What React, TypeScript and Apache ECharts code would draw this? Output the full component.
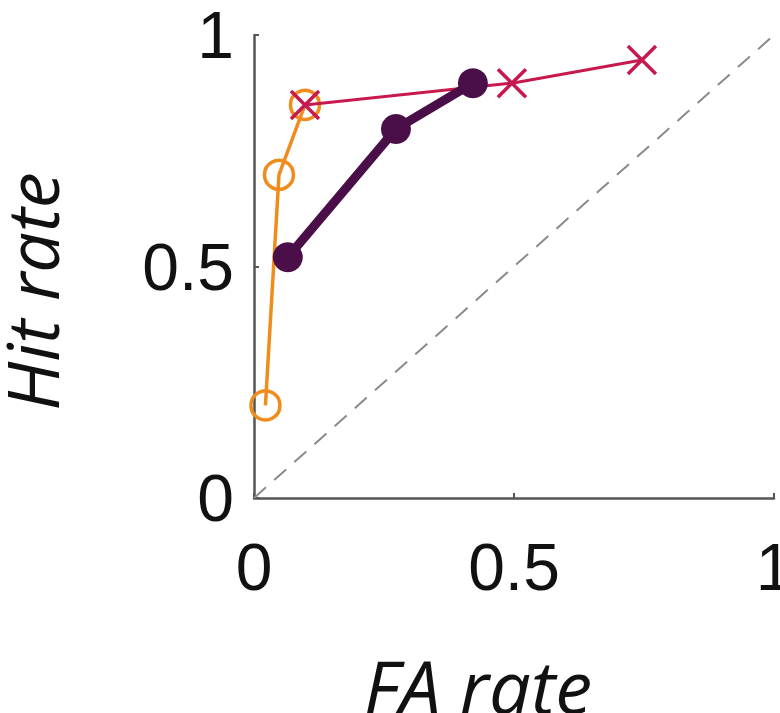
import React, { useEffect, useRef } from "react";
import * as echarts from "echarts";

const orangeX = [0.022, 0.048, 0.098];
const orangeY = [0.2, 0.698, 0.849];
const magentaX = [0.098, 0.496, 0.746];
const magentaY = [0.849, 0.896, 0.946];
const purpleX = [0.065, 0.273, 0.421];
const purpleY = [0.52, 0.797, 0.896];
const diagX = [0, 1];
const diagY = [0, 1];
const axisTicks = [0, 0.5, 1];

const zip = (xs: number[], ys: number[]) => xs.map((x, i) => [x, ys[i]]);
const fmt = (v: number) => (axisTicks.includes(v) ? String(v) : "");

export default function App() {
  const ref = useRef<HTMLDivElement>(null);
  useEffect(() => {
    if (!ref.current) return;
    const chart = echarts.init(ref.current, null, { renderer: "svg" });
    const axisCommon = {
      type: "value",
      min: 0,
      max: 1,
      interval: 0.5,
      axisLine: { show: true, lineStyle: { color: "#555", width: 2.5 } },
      axisTick: { show: true, inside: true, length: 5, lineStyle: { color: "#555", width: 2 } },
      splitLine: { show: false },
      axisLabel: {
        formatter: fmt,
        fontFamily: "Liberation Sans",
        fontSize: 66,
        color: "#111",
      },
    };
    chart.setOption({
      animation: false,
      backgroundColor: "#fff",
      grid: { left: 254, right: 6, top: 35, bottom: 215, outerBoundsMode: "none" },
      xAxis: {
        ...axisCommon,
        axisLabel: { ...axisCommon.axisLabel, margin: 36 },
        name: "FA rate",
        nameLocation: "middle",
        nameGap: 150,
        nameTextStyle: {
          fontFamily: "Open Sans",
          fontStyle: "italic",
          fontSize: 74,
          color: "#111",
          padding: [0, 72, 0, 0],
        },
      },
      yAxis: {
        ...axisCommon,
        axisLabel: { ...axisCommon.axisLabel, margin: 20 },
        name: "Hit rate",
        nameLocation: "middle",
        nameGap: 187,
        nameTextStyle: {
          fontFamily: "Open Sans",
          fontStyle: "italic",
          fontSize: 72,
          color: "#111",
          padding: [0, 50, 0, 0],
        },
      },
      series: [
        {
          type: "line",
          data: zip(diagX, diagY),
          symbol: "none",
          silent: true,
          lineStyle: { color: "#8a8a8a", width: 2, type: [16, 11] },
          z: 1,
        },
        {
          type: "line",
          data: zip(orangeX, orangeY),
          symbol: "circle",
          symbolSize: 29,
          lineStyle: { color: "#f08c1c", width: 3.5 },
          itemStyle: { color: "transparent", borderColor: "#f08c1c", borderWidth: 3.5 },
          z: 2,
        },
        {
          type: "line",
          data: zip(magentaX, magentaY),
          symbol: "path://M0,0L10,10M10,0L0,10",
          symbolSize: 28,
          lineStyle: { color: "#c8194f", width: 3 },
          itemStyle: { color: "transparent", borderColor: "#c8194f", borderWidth: 3.5 },
          z: 3,
        },
        {
          type: "line",
          data: zip(purpleX, purpleY),
          symbol: "circle",
          symbolSize: 30,
          lineStyle: { color: "#4a0f48", width: 9 },
          itemStyle: { color: "#4a0f48" },
          z: 4,
        },
      ],
    });
    return () => chart.dispose();
  }, []);
  return <div ref={ref} style={{ width: 780, height: 713, position: "absolute", left: 0, top: 0 }} />;
}
